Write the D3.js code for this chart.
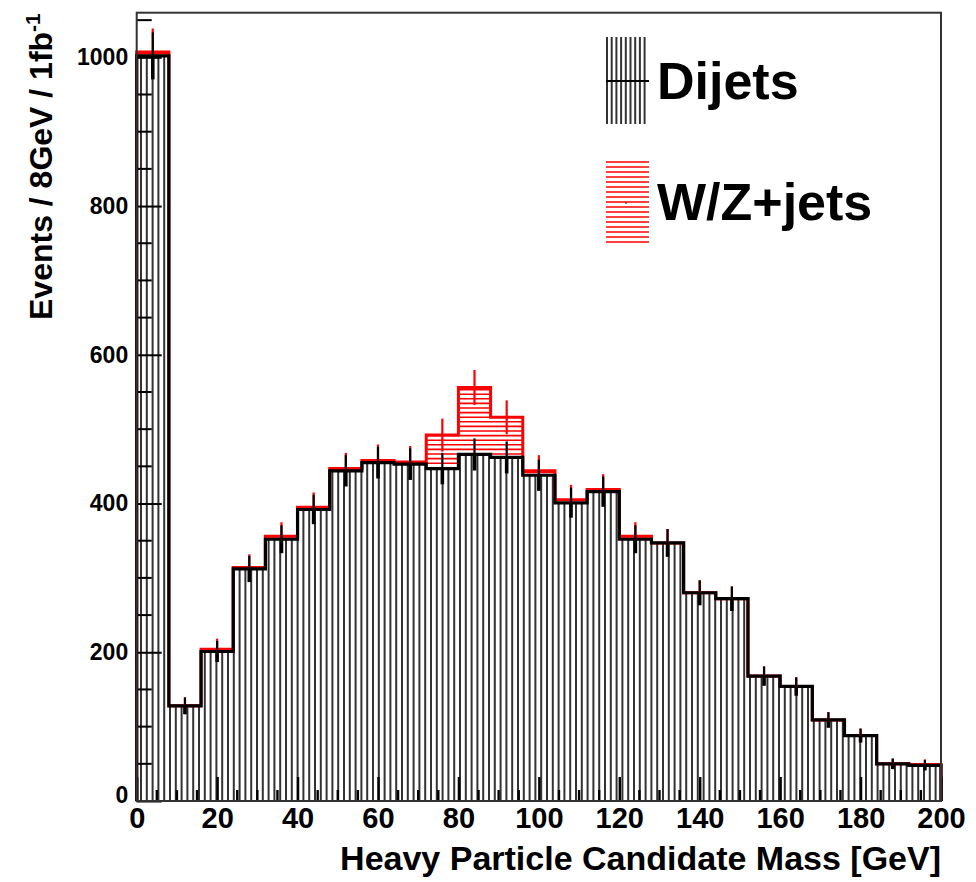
<!DOCTYPE html>
<html>
<head>
<meta charset="utf-8">
<script src="https://cdn.jsdelivr.net/npm/d3@7"></script>
<style>
  html, body { margin: 0; padding: 0; background: #ffffff; }
  svg { display: block; font-family: "Liberation Sans", Arial, Helvetica, sans-serif; font-weight: bold; }
</style>
</head>
<body>
<svg id="chart" width="976" height="882"></svg>
<script>
// Lower edges of the heavy particle candidate mass bins [GeV]
const massBinLow = [0, 8, 16, 24, 32, 40, 48, 56, 64, 72, 80, 88, 96, 104, 112, 120, 128, 136, 144, 152, 160, 168, 176, 184, 192];
const binWidth = 8;

// Events per bin (1 fb^-1), QCD dijet background
const dijets = [1002, 128, 201, 312, 352, 392, 444, 455, 453, 447, 466, 462, 438, 401, 416, 352, 347, 280, 272, 168, 154, 109, 88, 50, 48];

// Events per bin (1 fb^-1), W/Z+jets, stacked on top of the dijets
const wzJets = [5, 0, 3, 2, 4, 3, 3, 3, 3, 45, 90, 54, 6, 4, 3, 4, 0, 0, 0, 0, 0, 0, 0, 0, 1];

// Axis ticks and labels
const xTicks = [0, 20, 40, 60, 80, 100, 120, 140, 160, 180, 200];
const xTickLabels = ["0", "20", "40", "60", "80", "100", "120", "140", "160", "180", "200"];
const xMinorStep = 5;
const yTicks = [0, 200, 400, 600, 800, 1000];
const yTickLabels = ["0", "200", "400", "600", "800", "1000"];
const yMinorStep = 50;

const legendLabels = ["Dijets", "W/Z+jets"];
const xTitle = "Heavy Particle Candidate Mass [GeV]";
const yTitleMain = "Events / 8GeV / 1fb";
const yTitleSup = "-1";

// Frame geometry
const frame = { left: 136.7, right: 941, top: 12.7, bottom: 801 };
const xMax = 200, yMax = 1060;

const svg = d3.select("#chart");
const x = d3.scaleLinear().domain([0, xMax]).range([frame.left, frame.right]);
const y = d3.scaleLinear().domain([0, yMax]).range([frame.bottom, frame.top]);

const bins = massBinLow.map((lo, i) => ({
  lo: lo,
  hi: lo + binWidth,
  mid: lo + binWidth / 2,
  dj: dijets[i],
  wz: wzJets[i],
  tot: dijets[i] + wzJets[i]
}));

// Histogram contour as a step path from zero, across all bins, back to zero
function stepPoints(values) {
  const pts = [[0, 0]];
  bins.forEach((b, i) => pts.push([b.lo, values[i]]));
  pts.push([xMax, values[values.length - 1]]);
  pts.push([xMax, 0]);
  return pts;
}
const stepLine = d3.line().x(d => x(d[0])).y(d => y(d[1])).curve(d3.curveStepAfter);

const defs = svg.append("defs");

// Clip regions for the hatch fills
defs.append("clipPath").attr("id", "clip-dijets")
  .append("path").attr("d", stepLine(stepPoints(dijets)) + "Z");

const wzClip = defs.append("clipPath").attr("id", "clip-wz");
wzClip.selectAll("rect").data(bins.filter(b => b.wz > 0)).join("rect")
  .attr("x", d => x(d.lo))
  .attr("width", d => x(d.hi) - x(d.lo))
  .attr("y", d => y(d.tot))
  .attr("height", d => y(d.dj) - y(d.tot));

// Dijets: vertical hatching
const hatchV = d3.range(frame.left + 4.3, frame.right, 5.8);
svg.append("g").attr("clip-path", "url(#clip-dijets)")
  .selectAll("line").data(hatchV).join("line")
  .attr("x1", d => d).attr("x2", d => d)
  .attr("y1", frame.top).attr("y2", frame.bottom)
  .attr("stroke", "#333333").attr("stroke-width", 2);

// W/Z+jets: horizontal red hatching
const hatchH = d3.range(frame.bottom - 2, frame.top, -4.6);
svg.append("g").attr("clip-path", "url(#clip-wz)")
  .selectAll("line").data(hatchH).join("line")
  .attr("x1", frame.left).attr("x2", frame.right)
  .attr("y1", d => d).attr("y2", d => d)
  .attr("stroke", "#ff0000").attr("stroke-width", 1.6);

// Contours: stacked total (red), then dijets (black)
svg.append("path").attr("d", stepLine(stepPoints(bins.map(b => b.tot))))
  .attr("fill", "none").attr("stroke", "#ff0000").attr("stroke-width", 3);
svg.append("path").attr("d", stepLine(stepPoints(dijets)))
  .attr("fill", "none").attr("stroke", "#000000").attr("stroke-width", 3.2);

// Statistical error bars: total (red) beneath, dijets (black) on top
svg.append("g").selectAll("line").data(bins).join("line")
  .attr("x1", d => x(d.mid)).attr("x2", d => x(d.mid))
  .attr("y1", d => y(d.tot + Math.sqrt(d.tot)))
  .attr("y2", d => y(d.tot - Math.sqrt(d.tot)))
  .attr("stroke", "#ff0000").attr("stroke-width", 2.2);
const errDj = svg.append("g");
errDj.selectAll("line.up").data(bins).join("line").attr("class", "up")
  .attr("x1", d => x(d.mid)).attr("x2", d => x(d.mid))
  .attr("y1", d => y(d.dj + Math.sqrt(d.dj)))
  .attr("y2", d => y(d.dj))
  .attr("stroke", "#000").attr("stroke-width", 2.2);
errDj.selectAll("line.down").data(bins).join("line").attr("class", "down")
  .attr("x1", d => x(d.mid)).attr("x2", d => x(d.mid))
  .attr("y1", d => y(d.dj))
  .attr("y2", d => y(d.dj - Math.sqrt(d.dj)))
  .attr("stroke", "#000").attr("stroke-width", 3.6);

// Y axis: ticks inside the frame, labels to the left
const yMinor = d3.range(0, yMax + 1, yMinorStep).filter(v => !yTicks.includes(v));
const yAxis = d3.axisLeft(y).tickValues(yTicks)
  .tickFormat((d, i) => yTickLabels[i]).tickSizeInner(-25).tickSizeOuter(0).tickPadding(8.5);
const gy = svg.append("g").attr("transform", `translate(${frame.left},0)`).call(yAxis);
gy.select(".domain").remove();
gy.selectAll(".tick line").attr("stroke", "#000").attr("stroke-width", 2);
gy.selectAll(".tick text").attr("font-size", 23).attr("font-weight", "bold").attr("fill", "#000")
  .attr("font-family", "Liberation Sans, Arial, sans-serif");
gy.selectAll(".tick").filter(d => d === 0).select("text").attr("dy", "0.05em");
svg.append("g").selectAll("line").data(yMinor).join("line")
  .attr("x1", frame.left).attr("x2", frame.left + 15)
  .attr("y1", d => y(d)).attr("y2", d => y(d))
  .attr("stroke", "#000").attr("stroke-width", 2);

// X axis: ticks inside the frame, labels below
const xMinor = d3.range(0, xMax + 1, xMinorStep).filter(v => !xTicks.includes(v));
const xAxis = d3.axisBottom(x).tickValues(xTicks)
  .tickFormat((d, i) => xTickLabels[i]).tickSizeInner(-24).tickSizeOuter(0).tickPadding(6);
const gx = svg.append("g").attr("transform", `translate(0,${frame.bottom})`).call(xAxis);
gx.select(".domain").remove();
gx.selectAll(".tick line").attr("stroke", "#000").attr("stroke-width", 2.4);
gx.selectAll(".tick text").attr("font-size", 29).attr("font-weight", "bold").attr("fill", "#000")
  .attr("font-family", "Liberation Sans, Arial, sans-serif");
svg.append("g").selectAll("line").data(xMinor).join("line")
  .attr("x1", d => x(d)).attr("x2", d => x(d))
  .attr("y1", frame.bottom).attr("y2", frame.bottom - 11)
  .attr("stroke", "#000").attr("stroke-width", 2.4);

// Frame
svg.append("rect")
  .attr("x", frame.left).attr("y", frame.top)
  .attr("width", frame.right - frame.left).attr("height", frame.bottom - frame.top)
  .attr("fill", "none").attr("stroke", "#333").attr("stroke-width", 2);

// Axis titles
svg.append("text")
  .attr("x", frame.right).attr("y", 870)
  .attr("text-anchor", "end").attr("font-size", 34).attr("fill", "#000")
  .text(xTitle);

const yTitle = svg.append("text")
  .attr("transform", "translate(52,320) rotate(-90)")
  .attr("text-anchor", "start").attr("font-size", 32).attr("fill", "#000");
yTitle.append("tspan").text(yTitleMain);
yTitle.append("tspan").attr("dy", -12).attr("font-size", 21).text(yTitleSup);

// Legend
const legend = svg.append("g");
const lgBox = { x0: 606, x1: 649 };
// Dijets entry: vertical hatch with a horizontal line marker
legend.append("g").selectAll("line").data(d3.range(lgBox.x0 + 1, lgBox.x1 - 2, 4.7)).join("line")
  .attr("x1", d => d).attr("x2", d => d).attr("y1", 37).attr("y2", 124)
  .attr("stroke", "#333333").attr("stroke-width", 2);
legend.append("line").attr("x1", lgBox.x0).attr("x2", lgBox.x1).attr("y1", 81).attr("y2", 81)
  .attr("stroke", "#000").attr("stroke-width", 2);
// W/Z+jets entry: horizontal red hatch
legend.append("g").selectAll("line").data(d3.range(162, 244, 5)).join("line")
  .attr("x1", lgBox.x0).attr("x2", lgBox.x1).attr("y1", d => d).attr("y2", d => d)
  .attr("stroke", "#ff0000").attr("stroke-width", 1.6);
legend.append("circle").attr("cx", 626).attr("cy", 203).attr("r", 0.8).attr("fill", "#000");

legend.selectAll("text").data(legendLabels).join("text")
  .attr("x", 657).attr("y", (d, i) => i === 0 ? 99 : 220)
  .attr("font-size", 52).attr("fill", "#000")
  .text(d => d);
</script>
</body>
</html>
